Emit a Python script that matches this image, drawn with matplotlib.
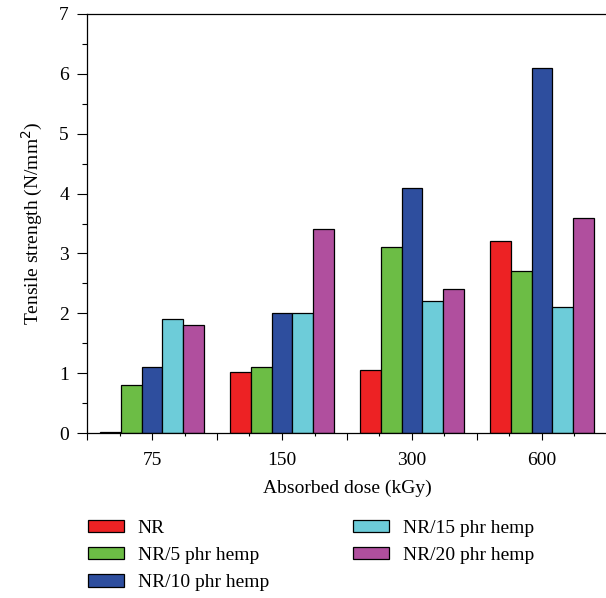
import matplotlib
matplotlib.use("Agg")
import matplotlib.pyplot as plt
import numpy as np
from matplotlib.ticker import FixedLocator, MultipleLocator

categories = ["75", "150", "300", "600"]
series_names = ["NR", "NR/5 phr hemp", "NR/10 phr hemp", "NR/15 phr hemp", "NR/20 phr hemp"]
nr = [0.02, 1.02, 1.06, 3.2]
nr5 = [0.8, 1.1, 3.1, 2.7]
nr10 = [1.1, 2.0, 4.1, 6.1]
nr15 = [1.9, 2.0, 2.2, 2.1]
nr20 = [1.8, 3.4, 2.4, 3.6]
colors = ["#ED2224", "#6CBD45", "#2E4E9E", "#6DCCD9", "#B04F9E"]

plt.rcParams['font.family'] = ['Liberation Serif', 'DejaVu Serif']
FS = 14

fig = plt.figure(figsize=(6.06, 5.98), dpi=100)
W, H = 606, 598
left, right, top, bottom = 87, 607, 14, 433
ax = fig.add_axes([left / W, 1 - bottom / H, (right - left) / W, (bottom - top) / H])

x = np.arange(len(categories))
width = 0.16
all_series = [nr, nr5, nr10, nr15, nr20]
handles = []
for i, (vals, name, c) in enumerate(zip(all_series, series_names, colors)):
    b = ax.bar(x + (i - 2) * width, vals, width, color=c, edgecolor="black",
               linewidth=0.9, label=name)
    handles.append(b)

ax.set_xlim(-0.5, 3.5)
ax.set_ylim(0, 7)

major_x = np.arange(-0.5, 3.51, 0.5)
labels = []
for v in major_x:
    r = int(round(v))
    labels.append(categories[r] if abs(v - r) < 1e-6 and 0 <= r < len(categories) else "")
ax.xaxis.set_major_locator(FixedLocator(major_x))
ax.set_xticklabels(labels)
ax.xaxis.set_minor_locator(FixedLocator(np.arange(-0.25, 3.5, 0.5)))
ax.yaxis.set_major_locator(MultipleLocator(1))
ax.yaxis.set_minor_locator(MultipleLocator(0.5))

ax.tick_params(axis='x', which='major', direction='out', length=4.7, width=0.8, labelsize=FS, pad=9)
ax.tick_params(axis='x', which='minor', direction='out', length=2.5, width=0.8)
ax.tick_params(axis='y', which='major', direction='out', length=7, width=0.8, labelsize=FS, pad=6)
ax.tick_params(axis='y', which='minor', direction='out', length=3.5, width=0.8)

for s in ax.spines.values():
    s.set_linewidth(0.9)
ax.spines['right'].set_visible(False)

ax.set_ylabel("Tensile strength (N/mm$^2$)", fontsize=FS, labelpad=10)
ax.set_xlabel("Absorbed dose (kGy)", fontsize=FS, labelpad=8)

leg = fig.legend(handles=handles, labels=series_names, ncol=2,
                 loc='upper left', bbox_to_anchor=(70 / W, 1 - 502 / H),
                 frameon=False, fontsize=FS, handlelength=1.86, handleheight=0.62,
                 handletextpad=0.72, columnspacing=4.3, labelspacing=0.52)

fig.savefig("out.png", dpi=100)
